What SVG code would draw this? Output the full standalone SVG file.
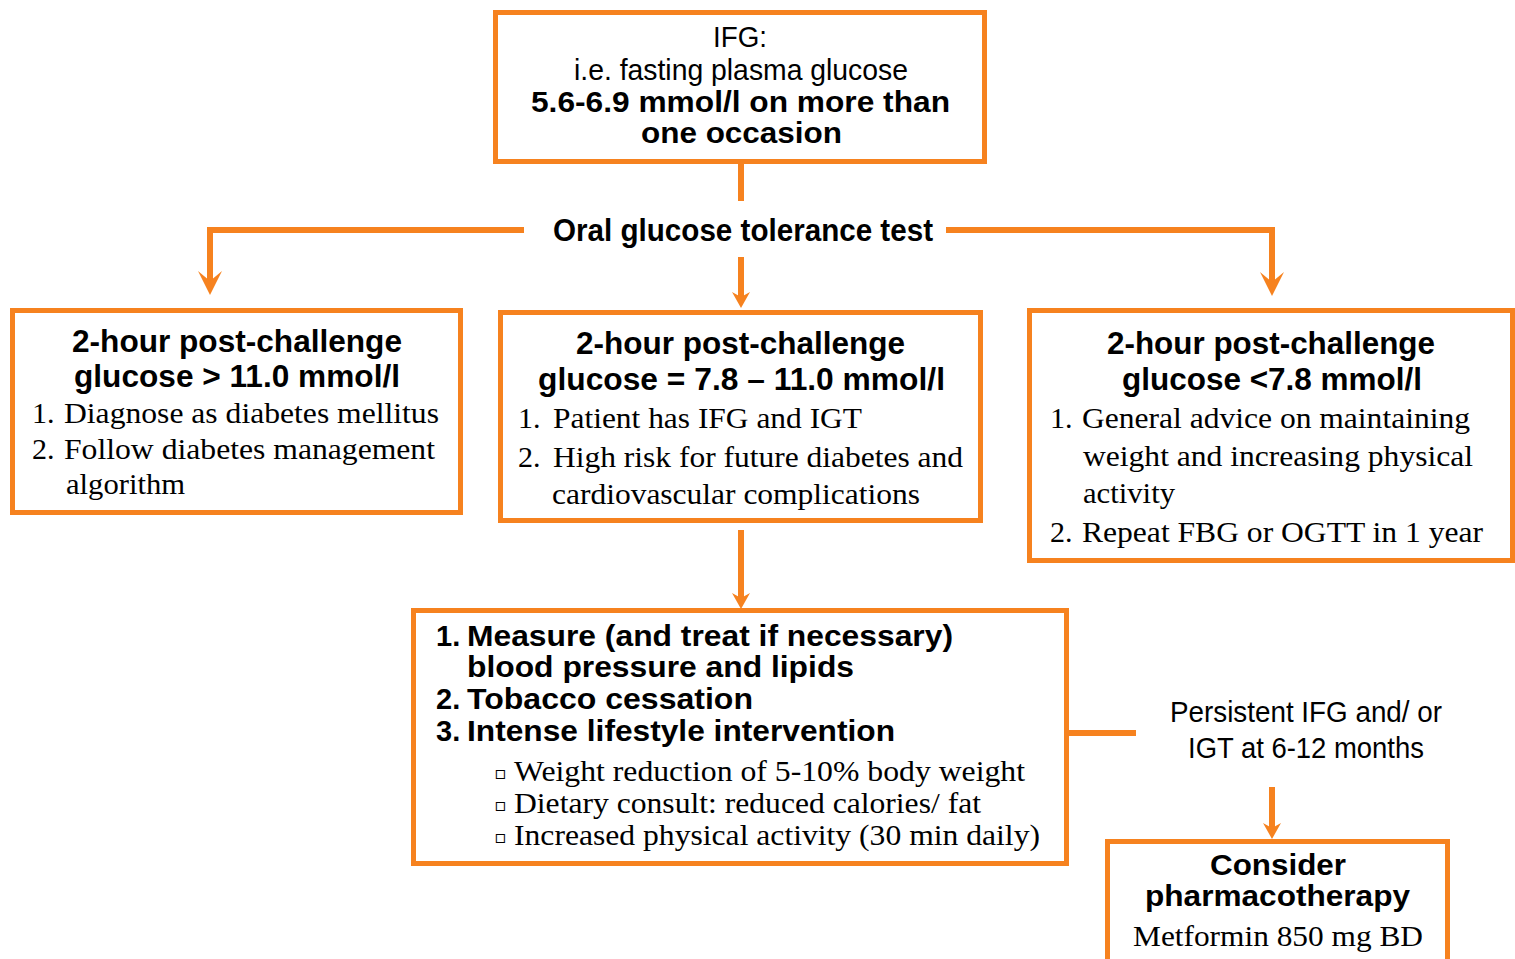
<svg xmlns="http://www.w3.org/2000/svg" width="1515" height="959" viewBox="0 0 1515 959">
<style>
.box{fill:#fff;stroke:#F6821F;stroke-width:5}
.con{fill:none;stroke:#F6821F;stroke-width:6;stroke-linejoin:miter}
.b{font-family:"Liberation Sans",Arial,sans-serif;font-weight:bold;font-size:31px;fill:#000}
.bt{font-family:"Liberation Sans",Arial,sans-serif;font-weight:bold;font-size:29px;fill:#000}
.r{font-family:"Liberation Sans",Arial,sans-serif;font-size:29px;fill:#000}
.s{font-family:"Liberation Serif","Times New Roman",serif;font-size:30px;fill:#000}
.bul{font-family:"DejaVu Sans",sans-serif;font-size:18px;fill:#000}
</style>
<defs>
<marker id="ahBig" markerUnits="userSpaceOnUse" viewBox="-15 -13 26 26" markerWidth="26" markerHeight="26" refX="0" refY="0" orient="auto">
<path d="M10,0 L-14,-12 L-4,0 L-14,12 Z" fill="#F6821F"/>
</marker>
<marker id="ahSmall" markerUnits="userSpaceOnUse" viewBox="-9 -10 18 20" markerWidth="18" markerHeight="20" refX="0" refY="0" orient="auto">
<path d="M8,0 L-8,-9 L-3,0 L-8,9 Z" fill="#F6821F"/>
</marker>
</defs>
<rect width="1515" height="959" fill="#fff"/>
<g id="connectors">
<path class="con" d="M741,163 V201"/>
<path class="con" d="M524,230 H210 V285" marker-end="url(#ahBig)"/>
<path class="con" d="M946,230 H1272 V286" marker-end="url(#ahBig)"/>
<path class="con" d="M741,257 V300" marker-end="url(#ahSmall)"/>
<path class="con" d="M741,530 V601" marker-end="url(#ahSmall)"/>
<path class="con" d="M1068,733 H1136"/>
<path class="con" d="M1272,787 V831" marker-end="url(#ahSmall)"/>
</g>
<g id="ifg">
<rect class="box" x="495.5" y="12.5" width="489" height="149"/>
<text class="r" x="713" y="47" textLength="54" lengthAdjust="spacingAndGlyphs">IFG:</text>
<text class="r" x="574" y="80" textLength="334" lengthAdjust="spacingAndGlyphs">i.e. fasting plasma glucose</text>
<text class="bt" x="531" y="112" textLength="419" lengthAdjust="spacingAndGlyphs">5.6-6.9 mmol/l on more than</text>
<text class="bt" x="641" y="143" textLength="201" lengthAdjust="spacingAndGlyphs">one occasion</text>
</g>
<g id="ogtt">
<text class="b" x="553" y="241" style="font-size:32px" textLength="380" lengthAdjust="spacingAndGlyphs">Oral glucose tolerance test</text>
</g>
<g id="high">
<rect class="box" x="12.5" y="310.5" width="448" height="202"/>
<text class="b" x="72" y="352" textLength="330" lengthAdjust="spacingAndGlyphs">2-hour post-challenge</text>
<text class="b" x="74" y="387" textLength="326" lengthAdjust="spacingAndGlyphs">glucose &gt; 11.0 mmol/l</text>
<text class="s" x="32" y="423">1.</text>
<text class="s" x="64" y="423" textLength="375" lengthAdjust="spacingAndGlyphs">Diagnose as diabetes mellitus</text>
<text class="s" x="32" y="459">2.</text>
<text class="s" x="64" y="459" textLength="371" lengthAdjust="spacingAndGlyphs">Follow diabetes management</text>
<text class="s" x="66" y="494" textLength="119" lengthAdjust="spacingAndGlyphs">algorithm</text>
</g>
<g id="mid">
<rect class="box" x="500.5" y="312.5" width="480" height="208"/>
<text class="b" x="576" y="354" textLength="329" lengthAdjust="spacingAndGlyphs">2-hour post-challenge</text>
<text class="b" x="538" y="390" textLength="407" lengthAdjust="spacingAndGlyphs">glucose = 7.8 – 11.0 mmol/l</text>
<text class="s" x="518" y="428">1.</text>
<text class="s" x="553" y="428" textLength="309" lengthAdjust="spacingAndGlyphs">Patient has IFG and IGT</text>
<text class="s" x="518" y="467">2.</text>
<text class="s" x="553" y="467" textLength="410" lengthAdjust="spacingAndGlyphs">High risk for future diabetes and</text>
<text class="s" x="552" y="504" textLength="368" lengthAdjust="spacingAndGlyphs">cardiovascular complications</text>
</g>
<g id="low">
<rect class="box" x="1029.5" y="310.5" width="483" height="250"/>
<text class="b" x="1107" y="354" textLength="328" lengthAdjust="spacingAndGlyphs">2-hour post-challenge</text>
<text class="b" x="1122" y="390" textLength="300" lengthAdjust="spacingAndGlyphs">glucose &lt;7.8 mmol/l</text>
<text class="s" x="1050" y="428">1.</text>
<text class="s" x="1082" y="428" textLength="388" lengthAdjust="spacingAndGlyphs">General advice on maintaining</text>
<text class="s" x="1083" y="466" textLength="390" lengthAdjust="spacingAndGlyphs">weight and increasing physical</text>
<text class="s" x="1083" y="503" textLength="92" lengthAdjust="spacingAndGlyphs">activity</text>
<text class="s" x="1050" y="542">2.</text>
<text class="s" x="1082" y="542" textLength="401" lengthAdjust="spacingAndGlyphs">Repeat FBG or OGTT in 1 year</text>
</g>
<g id="actions">
<rect class="box" x="413.5" y="610.5" width="653" height="253"/>
<text class="bt" x="436" y="646">1.</text>
<text class="bt" x="467" y="646" textLength="486" lengthAdjust="spacingAndGlyphs">Measure (and treat if necessary)</text>
<text class="bt" x="467" y="677" textLength="387" lengthAdjust="spacingAndGlyphs">blood pressure and lipids</text>
<text class="bt" x="436" y="709">2.</text>
<text class="bt" x="467" y="709" textLength="286" lengthAdjust="spacingAndGlyphs">Tobacco cessation</text>
<text class="bt" x="436" y="741">3.</text>
<text class="bt" x="467" y="741" textLength="428" lengthAdjust="spacingAndGlyphs">Intense lifestyle intervention</text>
<text class="bul" x="494" y="779">▫</text>
<text class="s" x="514" y="781" textLength="511" lengthAdjust="spacingAndGlyphs">Weight reduction of 5-10% body weight</text>
<text class="bul" x="494" y="811">▫</text>
<text class="s" x="514" y="813" textLength="467" lengthAdjust="spacingAndGlyphs">Dietary consult: reduced calories/ fat</text>
<text class="bul" x="494" y="843">▫</text>
<text class="s" x="514" y="845" textLength="526" lengthAdjust="spacingAndGlyphs">Increased physical activity (30 min daily)</text>
</g>
<g id="persistent">
<text class="r" x="1170" y="722" textLength="272" lengthAdjust="spacingAndGlyphs">Persistent IFG and/ or</text>
<text class="r" x="1188" y="758" textLength="236" lengthAdjust="spacingAndGlyphs">IGT at 6-12 months</text>
</g>
<g id="pharma">
<rect class="box" x="1107.5" y="841.5" width="340" height="130"/>
<text class="bt" x="1210" y="875" textLength="136" lengthAdjust="spacingAndGlyphs">Consider</text>
<text class="bt" x="1145" y="906" textLength="265" lengthAdjust="spacingAndGlyphs">pharmacotherapy</text>
<text class="s" x="1133" y="946" textLength="290" lengthAdjust="spacingAndGlyphs">Metformin 850 mg BD</text>
</g>
</svg>
